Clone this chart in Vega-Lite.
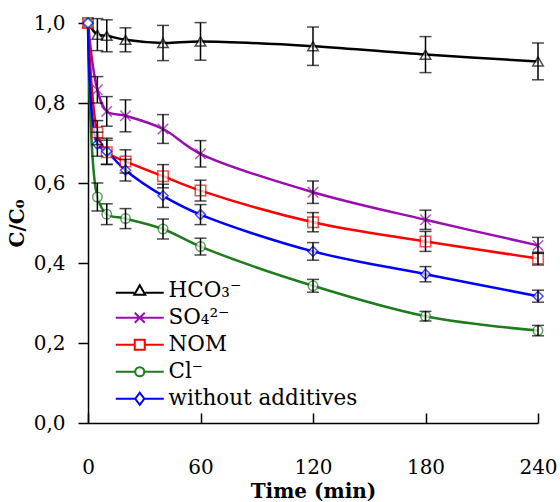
{
 "$schema": "https://vega.github.io/schema/vega-lite/v6.json",
 "width": 450, "height": 400,
 "autosize": {"type": "none"},
 "padding": {"left": 88, "top": 23, "right": 22, "bottom": 79},
 "background": "white",
 "config": {
  "view": {"stroke": null},
  "axis": {"grid": false, "domainColor": "black", "tickColor": "black", "domainWidth": 1.5, "tickWidth": 1.5,
   "labelFont": "DejaVu Serif", "labelFontSize": 20, "labelColor": "black", "labelFlush": false,
   "titleFont": "DejaVu Serif", "titleFontSize": 20, "titleFontWeight": "bold", "titleColor": "black"}
 },
 "data": {"values": [
  {"series": "HCO₃⁻", "t": 0, "v": 1.0, "lo": 1.0, "hi": 1.0},
  {"series": "HCO₃⁻", "t": 5, "v": 0.971, "lo": 0.931, "hi": 1.011},
  {"series": "HCO₃⁻", "t": 10, "v": 0.968, "lo": 0.928, "hi": 1.008},
  {"series": "HCO₃⁻", "t": 20, "v": 0.958, "lo": 0.928, "hi": 0.988},
  {"series": "HCO₃⁻", "t": 40, "v": 0.950, "lo": 0.906, "hi": 0.994},
  {"series": "HCO₃⁻", "t": 60, "v": 0.954, "lo": 0.907, "hi": 1.001},
  {"series": "HCO₃⁻", "t": 120, "v": 0.942, "lo": 0.894, "hi": 0.990},
  {"series": "HCO₃⁻", "t": 180, "v": 0.921, "lo": 0.876, "hi": 0.966},
  {"series": "HCO₃⁻", "t": 240, "v": 0.904, "lo": 0.858, "hi": 0.950},
  {"series": "SO₄²⁻", "t": 0, "v": 1.0, "lo": 1.0, "hi": 1.0},
  {"series": "SO₄²⁻", "t": 5, "v": 0.833, "lo": 0.800, "hi": 0.866},
  {"series": "SO₄²⁻", "t": 10, "v": 0.779, "lo": 0.742, "hi": 0.816},
  {"series": "SO₄²⁻", "t": 20, "v": 0.768, "lo": 0.728, "hi": 0.808},
  {"series": "SO₄²⁻", "t": 40, "v": 0.735, "lo": 0.699, "hi": 0.771},
  {"series": "SO₄²⁻", "t": 60, "v": 0.673, "lo": 0.640, "hi": 0.706},
  {"series": "SO₄²⁻", "t": 120, "v": 0.577, "lo": 0.549, "hi": 0.605},
  {"series": "SO₄²⁻", "t": 180, "v": 0.508, "lo": 0.484, "hi": 0.532},
  {"series": "SO₄²⁻", "t": 240, "v": 0.444, "lo": 0.424, "hi": 0.464},
  {"series": "NOM", "t": 0, "v": 1.0, "lo": 1.0, "hi": 1.0},
  {"series": "NOM", "t": 5, "v": 0.726, "lo": 0.696, "hi": 0.756},
  {"series": "NOM", "t": 10, "v": 0.677, "lo": 0.647, "hi": 0.707},
  {"series": "NOM", "t": 20, "v": 0.654, "lo": 0.625, "hi": 0.683},
  {"series": "NOM", "t": 40, "v": 0.617, "lo": 0.588, "hi": 0.646},
  {"series": "NOM", "t": 60, "v": 0.581, "lo": 0.555, "hi": 0.607},
  {"series": "NOM", "t": 120, "v": 0.502, "lo": 0.478, "hi": 0.526},
  {"series": "NOM", "t": 180, "v": 0.454, "lo": 0.429, "hi": 0.479},
  {"series": "NOM", "t": 240, "v": 0.411, "lo": 0.395, "hi": 0.427},
  {"series": "Cl⁻", "t": 0, "v": 1.0, "lo": 1.0, "hi": 1.0},
  {"series": "Cl⁻", "t": 5, "v": 0.565, "lo": 0.530, "hi": 0.600},
  {"series": "Cl⁻", "t": 10, "v": 0.522, "lo": 0.496, "hi": 0.548},
  {"series": "Cl⁻", "t": 20, "v": 0.511, "lo": 0.486, "hi": 0.536},
  {"series": "Cl⁻", "t": 40, "v": 0.485, "lo": 0.460, "hi": 0.510},
  {"series": "Cl⁻", "t": 60, "v": 0.441, "lo": 0.420, "hi": 0.462},
  {"series": "Cl⁻", "t": 120, "v": 0.343, "lo": 0.327, "hi": 0.359},
  {"series": "Cl⁻", "t": 180, "v": 0.267, "lo": 0.255, "hi": 0.279},
  {"series": "Cl⁻", "t": 240, "v": 0.231, "lo": 0.218, "hi": 0.244},
  {"series": "without additives", "t": 0, "v": 1.0, "lo": 1.0, "hi": 1.0},
  {"series": "without additives", "t": 5, "v": 0.697, "lo": 0.667, "hi": 0.727},
  {"series": "without additives", "t": 10, "v": 0.679, "lo": 0.646, "hi": 0.712},
  {"series": "without additives", "t": 20, "v": 0.632, "lo": 0.605, "hi": 0.659},
  {"series": "without additives", "t": 40, "v": 0.568, "lo": 0.539, "hi": 0.597},
  {"series": "without additives", "t": 60, "v": 0.521, "lo": 0.496, "hi": 0.546},
  {"series": "without additives", "t": 120, "v": 0.429, "lo": 0.407, "hi": 0.451},
  {"series": "without additives", "t": 180, "v": 0.372, "lo": 0.353, "hi": 0.391},
  {"series": "without additives", "t": 240, "v": 0.317, "lo": 0.302, "hi": 0.332}
 ]},
 "encoding": {
  "x": {"field": "t", "type": "quantitative", "scale": {"domain": [0, 240], "nice": false},
   "axis": {"values": [0, 60, 120, 180, 240], "tickSize": -10, "labelPadding": 44, "title": "Time (min)", "titleY": 68, "titleBaseline": "middle"}}
 },
 "resolve": {"scale": {"color": "independent", "shape": "independent"}, "legend": {"color": "independent", "shape": "independent"}},
 "layer": [
  {
   "mark": {"type": "line", "interpolate": "catmull-rom", "strokeWidth": 2.5},
   "encoding": {
    "y": {"field": "v", "type": "quantitative", "scale": {"domain": [0, 1], "nice": false},
     "axis": {"values": [0, 0.2, 0.4, 0.6, 0.8, 1.0], "tickSize": 10, "labelPadding": 13, "labelExpr": "replace(format(datum.value, '.1f'), '.', ',')", "title": "C/C₀", "titleX": -71, "titleY": 200, "titleBaseline": "middle", "titleAlign": "center"}},
    "color": {"field": "series", "type": "nominal", "legend": null,
     "scale": {"domain": ["HCO₃⁻", "SO₄²⁻", "NOM", "Cl⁻", "without additives"], "range": ["#000000", "#9A0DB0", "#FF0000", "#1E7B1E", "#0000FF"]}}
   }
  },
  {
   "layer": [{
   "mark": {"type": "point", "opacity": 0},
   "encoding": {
    "y": {"field": "v", "type": "quantitative"},
    "color": {"field": "series", "type": "nominal",
     "scale": {"domain": ["HCO₃⁻", "SO₄²⁻", "NOM", "Cl⁻", "without additives"], "range": ["#000000", "#9A0DB0", "#FF0000", "#1E7B1E", "#0000FF"]},
     "legend": {"title": null, "orient": "none", "legendX": 41, "legendY": 257, "symbolSize": 100, "symbolStrokeWidth": 2, "symbolOpacity": 1, "labelFont": "DejaVu Serif", "labelFontSize": 21.5, "labelColor": "black", "labelOffset": 18, "rowPadding": 4, "padding": 0, "labelLimit": 400}},
    "shape": {"field": "series", "type": "nominal",
     "scale": {"domain": ["HCO₃⁻", "SO₄²⁻", "NOM", "Cl⁻", "without additives"],
      "range": ["M-4.8,0.4H-1.1M1.1,0.4H4.8M0,-1.1L1.1,0.8H-1.1Z", "M-4.8,0H4.8M-1,-1L1,1M-1,1L1,-1", "M-4.8,0H-1M1,0H4.8M-1,-1H1V1H-1Z", "M-4.8,0H-0.9M0.9,0H4.8M-0.9,0A0.9,0.9 0 1,0 0.9,0A0.9,0.9 0 1,0 -0.9,0Z", "M-4.8,0H-0.9M0.9,0H4.8M-0.9,0L0,-1.2L0.9,0L0,1.2Z"]},
     "legend": {"title": null, "orient": "none", "legendX": 41, "legendY": 257, "symbolSize": 100, "symbolStrokeWidth": 2, "symbolOpacity": 1, "labelFont": "DejaVu Serif", "labelFontSize": 21.5, "labelColor": "black", "labelOffset": 18, "rowPadding": 4, "padding": 0, "labelLimit": 400}}
   }
   }]
  },
  {
   "transform": [{"filter": "datum.series == 'HCO₃⁻'"}],
   "mark": {"type": "point", "shape": "triangle-up", "size": 110, "filled": true, "fill": "white", "stroke": "#000000", "strokeWidth": 1.5},
   "encoding": {"y": {"field": "v", "type": "quantitative"}}
  },
  {
   "transform": [{"filter": "datum.series == 'SO₄²⁻'"}],
   "mark": {"type": "point", "shape": "M-1,-1L1,1M-1,1L1,-1", "size": 110, "filled": false, "stroke": "#9A0DB0", "strokeWidth": 1.5},
   "encoding": {"y": {"field": "v", "type": "quantitative"}}
  },
  {
   "transform": [{"filter": "datum.series == 'NOM'"}],
   "mark": {"type": "point", "shape": "square", "size": 110, "filled": true, "fill": "white", "stroke": "#FF0000", "strokeWidth": 1.5},
   "encoding": {"y": {"field": "v", "type": "quantitative"}}
  },
  {
   "transform": [{"filter": "datum.series == 'Cl⁻'"}],
   "mark": {"type": "point", "shape": "circle", "size": 90, "filled": true, "fill": "white", "stroke": "#1E7B1E", "strokeWidth": 1.5},
   "encoding": {"y": {"field": "v", "type": "quantitative"}}
  },
  {
   "transform": [{"filter": "datum.series == 'without additives'"}],
   "mark": {"type": "point", "shape": "diamond", "size": 100, "filled": true, "fill": "white", "stroke": "#0000FF", "strokeWidth": 1.5},
   "encoding": {"y": {"field": "v", "type": "quantitative"}}
  },
  {
   "transform": [{"filter": "datum.t > 0"}],
   "mark": {"type": "errorbar", "ticks": true, "size": 12, "thickness": 1.5, "color": "black"},
   "encoding": {
    "y": {"field": "lo", "type": "quantitative", "title": "C/C₀"},
    "y2": {"field": "hi"}
   }
  }
 ]
}
